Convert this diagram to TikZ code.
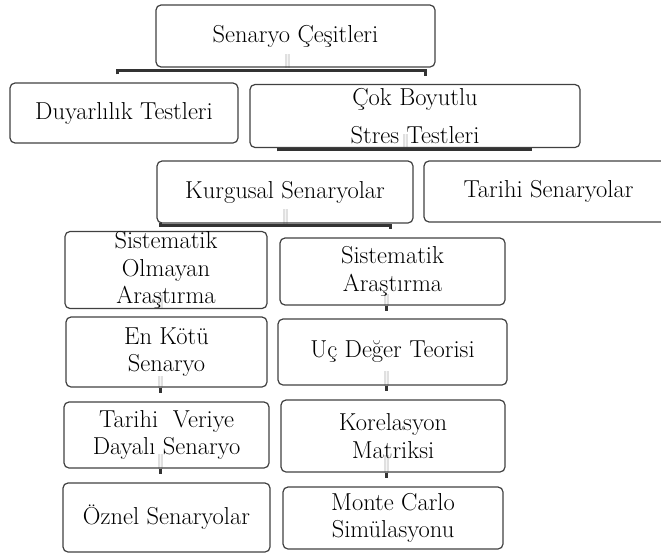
\documentclass[tikz,border=0pt]{standalone}
\usepackage{fontspec}
\usetikzlibrary{backgrounds}

\begin{document}
\begin{tikzpicture}[x=1pt,y=-1pt,
    box/.style={draw=black!75, line width=1.2pt, rounded corners=5pt, align=center, inner sep=0pt,
      font=\fontsize{24.5}{27.5}\selectfont},
    bar/.style={draw=black!80, line width=3pt},
    stem/.style={draw=black!12, double=black!4, double distance=1pt, line width=2pt}]
  \useasboundingbox (0,0) rectangle (661,554);

  % upper levels
  \node[box, minimum width=279pt, minimum height=62pt] (top) at (295.5,36) {Senaryo Çeşitleri};
  \node[box, minimum width=228pt, minimum height=60pt] (duy) at (124,113) {Duyarlılık Testleri};
  \node[box, minimum width=330pt, minimum height=63pt, font=\fontsize{24.5}{38}\selectfont] (cok) at (415,116) {Çok Boyutlu\\Stres Testleri};
  \node[box, minimum width=256pt, minimum height=62pt] (kur) at (285,192) {Kurgusal Senaryolar};
  \node[box, minimum width=249pt, minimum height=61pt] (tar) at (548.5,191.5) {Tarihi Senaryolar};

  % left column
  \node[box, minimum width=202pt, minimum height=64pt] (sol) at (166,270) {Sistematik\\Olmayan\\Araştırma};
  \node[box, minimum width=201pt, minimum height=70pt] (enk) at (166.5,352) {En Kötü\\Senaryo};
  \node[box, minimum width=205pt, minimum height=66pt] (tve) at (166.5,435) {Tarihi\ \ Veriye\\Dayalı Senaryo};
  \node[box, minimum width=207pt, minimum height=69pt] (ozn) at (166.5,517.5) {Öznel Senaryolar};

  % right column
  \node[box, minimum width=225pt, minimum height=67pt] (sag) at (392.5,271.5) {Sistematik\\Araştırma};
  \node[box, minimum width=229pt, minimum height=66pt] (ucd) at (392.5,352) {Uç Değer Teorisi};
  \node[box, minimum width=224pt, minimum height=72pt] (kor) at (393,436) {Korelasyon\\Matriksi};
  \node[box, minimum width=220pt, minimum height=62pt] (mon) at (393,518) {Monte Carlo\\Simülasyonu};

  \begin{scope}[on background layer]
    \draw[stem] ([xshift=-8.5pt]top.south) -- ++(0,-14);
    \draw[stem] ([xshift=-10pt]cok.south) -- ++(0,-14);
    \draw[stem] (kur.south) -- ++(0,-15);
    \draw[stem] ([xshift=-6pt]sol.south) -- ++(0,-14);
    \draw[stem] ([xshift=-6.5pt]enk.south) -- ++(0,-12);
    \draw[stem] ([xshift=-6.5pt]tve.south) -- ++(0,-15);
    \draw[stem] ([xshift=-6.5pt]sag.south) -- ++(0,-12);
    \draw[stem] ([xshift=-6.5pt]ucd.south) -- ++(0,-15);
    \draw[stem] ([xshift=-7pt]kor.south) -- ++(0,-18);
  \end{scope}

  \draw[bar] ([xshift=-7pt,yshift=8pt]duy.north) |- ([yshift=-3pt]top.south) -| ([xshift=10pt,yshift=8pt]cok.north);
  \draw[bar] ([xshift=-7pt,yshift=9pt]kur.north) |- ([yshift=-1pt]cok.south) -| ([xshift=-18.5pt,yshift=9pt]tar.north);
  \draw[bar] ([xshift=-6pt,yshift=8pt]sol.north) |- ([yshift=-2pt]kur.south) -| ([xshift=-2.5pt,yshift=8pt]sag.north);

  \draw[bar] ([xshift=-6.5pt]enk.south) -- ++(0,5);
  \draw[bar] ([xshift=-6.5pt]tve.south) -- ++(0,5);
  \draw[bar] ([xshift=-6.5pt]sag.south) -- ++(0,5);
  \draw[bar] ([xshift=-6.5pt]ucd.south) -- ++(0,5);
  \draw[bar] ([xshift=-7pt]kor.south) -- ++(0,5);
\end{tikzpicture}
\end{document}
